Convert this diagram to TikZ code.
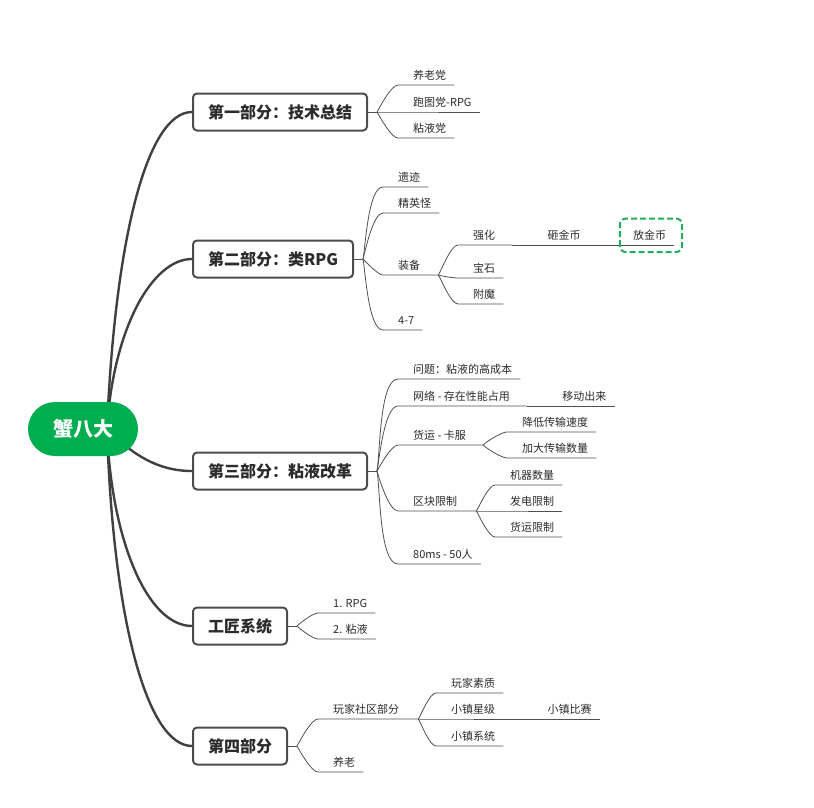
\documentclass[tikz,border=0pt]{standalone}
\usepackage{fontspec}
\setmainfont{Noto Sans CJK SC}
\usepackage{tikz}
\usetikzlibrary{backgrounds, calc}
\definecolor{rootgreen}{HTML}{00AD4F}
\definecolor{hlgreen}{HTML}{1FAF5A}
\definecolor{linegray}{HTML}{404040}
\definecolor{boxgray}{HTML}{4D4D4D}
\definecolor{twiggray}{HTML}{505050}
\definecolor{textgray}{HTML}{2B2B2B}

\tikzset{
  root/.style={fill=rootgreen, text=white, rounded corners=27pt, minimum width=110pt, minimum height=54pt, font=\bfseries\fontsize{20}{22}\selectfont},
  part/.style={draw=boxgray, fill=white, line width=2pt, rounded corners=4pt, minimum height=37pt, inner xsep=15pt, text=textgray, font=\bfseries\fontsize{16}{18}\selectfont},
  leaf/.style={anchor=south west, inner xsep=0pt, inner ysep=2pt, text height=9pt, text depth=3pt, text=textgray, font=\fontsize{11}{13}\selectfont},
  mainline/.style={draw=linegray, line width=2.4pt},
  twig/.style={draw=twiggray, line width=0.8pt, looseness=.5},
  hilite/.style={draw=hlgreen, dash pattern=on 6pt off 3pt, line width=2pt, rounded corners=6pt}
}

\begin{document}
\begin{tikzpicture}[x=1pt, y=-1pt]
  \useasboundingbox (0,0) rectangle (814,808);

  % 中心主题
  \node[root] (root) at (83,429) {蟹八大};
  \coordinate (hub) at ([xshift=24pt]root.center);

  % 五个部分
  \node[part, anchor=west] (m1) at (192,112) {第一部分：技术总结};
  \node[part, anchor=west] (m2) at (192,259) {第二部分：类RPG};
  \node[part, anchor=west] (m3) at (192,471) {第三部分：粘液改革};
  \node[part, anchor=west] (m4) at (192,626) {工匠系统};
  \node[part, anchor=west] (m5) at (192,746) {第四部分};

  \begin{scope}[on background layer]
    \draw[mainline] (hub) .. controls +(8,-190) and +(-45,0) .. (m1.west);
    \draw[mainline] (hub) .. controls +(6,-100) and +(-40,0) .. (m2.west);
    \draw[mainline] (hub) .. controls +(25,25) and +(-35,0) .. (m3.west);
    \draw[mainline] (hub) .. controls +(4,110) and +(-45,0) .. (m4.west);
    \draw[mainline] (hub) .. controls +(6,190) and +(-45,0) .. (m5.west);
  \end{scope}

  % 第一部分
  \node[leaf] (yang) at (413,85) {养老党};
  \node[leaf] (pao) at (413,112) {跑图党-RPG};
  \node[leaf] (nian) at (413,138) {粘液党};
  \coordinate (f1) at ([xshift=9pt]m1.east);
  \draw[twig] (m1.east) -- (f1);
  \draw[twig] (f1) to[out=60,in=180] ([xshift=-15pt]yang.south west) -- ([xshift=8pt]yang.south east);
  \draw[twig] (f1) -- ([xshift=-15pt]pao.south west) -- ([xshift=8pt]pao.south east);
  \draw[twig] (f1) to[out=-60,in=180] ([xshift=-15pt]nian.south west) -- ([xshift=8pt]nian.south east);

  % 第二部分
  \node[leaf] (yiji) at (398,187) {遗迹};
  \node[leaf] (jingying) at (398,213) {精英怪};
  \node[leaf] (zhuangbei) at (398,275) {装备};
  \node[leaf] (sq) at (398,330) {4-7};
  \coordinate (f2) at ([xshift=9pt]m2.east);
  \coordinate (f23) at ([xshift=18pt]zhuangbei.south east);
  \draw[twig] (m2.east) -- (f2);
  \draw[twig] (f2) to[out=80,in=180] ([xshift=-15pt]yiji.south west) -- ([xshift=8pt]yiji.south east);
  \draw[twig] (f2) to[out=75,in=180] ([xshift=-15pt]jingying.south west) -- ([xshift=8pt]jingying.south east);
  \draw[twig] (f2) to[out=-45,in=180] ([xshift=-15pt]zhuangbei.south west) -- (f23);
  \draw[twig] (f2) to[out=-80,in=180] ([xshift=-15pt]sq.south west) -- ([xshift=8pt]sq.south east);

  \node[leaf] (qianghua) at (473,245) {强化};
  \node[leaf] (baoshi) at (473,278) {宝石};
  \node[leaf] (fumo) at (473,304) {附魔};
  \coordinate (f231) at ([xshift=17pt]qianghua.south east);
  \draw[twig] (f23) to[out=60,in=180] ([xshift=-15pt]qianghua.south west) -- (f231);
  \draw[twig] (f23) to[out=-20,in=180] ([xshift=-15pt]baoshi.south west) -- ([xshift=8pt]baoshi.south east);
  \draw[twig] (f23) to[out=-60,in=180] ([xshift=-15pt]fumo.south west) -- ([xshift=8pt]fumo.south east);

  \node[leaf] (zajin) at ([xshift=35pt]f231) {砸金币};
  \coordinate (f2311) at ([xshift=17pt]zajin.south east);
  \draw[twig] (f231) -- (f2311);
  \node[leaf] (fangjin) at ([xshift=35pt]f2311) {放金币};
  \draw[twig] (f2311) -- ([xshift=8pt]fangjin.south east);
  \draw[hilite] ($(fangjin.south west)+(-13,7)$) rectangle ($(fangjin.north east)+(16,-10)$);

  % 第三部分
  \node[leaf] (wenti) at (413,379) {问题：粘液的高成本};
  \node[leaf] (wangluo) at (413,406) {网络 - 存在性能占用};
  \node[leaf] (huoyun) at (413,445) {货运 - 卡服};
  \node[leaf] (qukuai) at (413,511) {区块限制};
  \node[leaf] (ms) at (413,564) {80ms - 50人};
  \coordinate (f3) at ([xshift=9pt]m3.east);
  \coordinate (f32) at ([xshift=17pt]wangluo.south east);
  \coordinate (f33) at ([xshift=17pt]huoyun.south east);
  \coordinate (f34) at ([xshift=19pt]qukuai.south east);
  \draw[twig] (m3.east) -- (f3);
  \draw[twig] (f3) to[out=80,in=180] ([xshift=-15pt]wenti.south west) -- ([xshift=8pt]wenti.south east);
  \draw[twig] (f3) to[out=80,in=180] ([xshift=-15pt]wangluo.south west) -- (f32);
  \draw[twig] (f3) to[out=60,in=180] ([xshift=-15pt]huoyun.south west) -- (f33);
  \draw[twig] (f3) to[out=-75,in=180] ([xshift=-15pt]qukuai.south west) -- (f34);
  \draw[twig] (f3) to[out=-80,in=180] ([xshift=-15pt]ms.south west) -- ([xshift=8pt]ms.south east);

  \node[leaf] (yidong) at ([xshift=35pt]f32) {移动出来};
  \draw[twig] (f32) -- ([xshift=8pt]yidong.south east);

  \node[leaf] (jiangdi) at (522,432) {降低传输速度};
  \node[leaf] (jiada) at (522,458) {加大传输数量};
  \draw[twig] (f33) to[out=45,in=180] ([xshift=-15pt]jiangdi.south west) -- ([xshift=8pt]jiangdi.south east);
  \draw[twig] (f33) to[out=-45,in=180] ([xshift=-15pt]jiada.south west) -- ([xshift=8pt]jiada.south east);

  \node[leaf] (jiqi) at (510,485) {机器数量};
  \node[leaf] (fadian) at (510,511) {发电限制};
  \node[leaf] (huoyunxz) at (510,537) {货运限制};
  \draw[twig] (f34) to[out=60,in=180] ([xshift=-15pt]jiqi.south west) -- ([xshift=8pt]jiqi.south east);
  \draw[twig] (f34) -- ([xshift=-15pt]fadian.south west) -- ([xshift=8pt]fadian.south east);
  \draw[twig] (f34) to[out=-60,in=180] ([xshift=-15pt]huoyunxz.south west) -- ([xshift=8pt]huoyunxz.south east);

  % 工匠系统
  \node[leaf] (rpg) at (333,613) {1. RPG};
  \node[leaf] (nianye) at (333,639) {2. 粘液};
  \coordinate (f4) at ([xshift=9pt]m4.east);
  \draw[twig] (m4.east) -- (f4);
  \draw[twig] (f4) to[out=45,in=180] ([xshift=-15pt]rpg.south west) -- ([xshift=8pt]rpg.south east);
  \draw[twig] (f4) to[out=-45,in=180] ([xshift=-15pt]nianye.south west) -- ([xshift=8pt]nianye.south east);

  % 第四部分
  \node[leaf] (shequ) at (333,719) {玩家社区部分};
  \node[leaf] (yanglao) at (333,772) {养老};
  \coordinate (f5) at ([xshift=9pt]m5.east);
  \coordinate (f51) at ([xshift=19pt]shequ.south east);
  \draw[twig] (m5.east) -- (f5);
  \draw[twig] (f5) to[out=60,in=180] ([xshift=-15pt]shequ.south west) -- (f51);
  \draw[twig] (f5) to[out=-60,in=180] ([xshift=-15pt]yanglao.south west) -- ([xshift=8pt]yanglao.south east);

  \node[leaf] (suzhi) at (451,693) {玩家素质};
  \node[leaf] (xingji) at (451,719) {小镇星级};
  \node[leaf] (xitong) at (451,746) {小镇系统};
  \coordinate (f511) at ([xshift=17pt]xingji.south east);
  \draw[twig] (f51) to[out=60,in=180] ([xshift=-15pt]suzhi.south west) -- ([xshift=8pt]suzhi.south east);
  \draw[twig] (f51) -- ([xshift=-15pt]xingji.south west) -- (f511);
  \draw[twig] (f51) to[out=-60,in=180] ([xshift=-15pt]xitong.south west) -- ([xshift=8pt]xitong.south east);

  \node[leaf] (bisai) at ([xshift=35pt]f511) {小镇比赛};
  \draw[twig] (f511) -- ([xshift=8pt]bisai.south east);
\end{tikzpicture}
\end{document}
